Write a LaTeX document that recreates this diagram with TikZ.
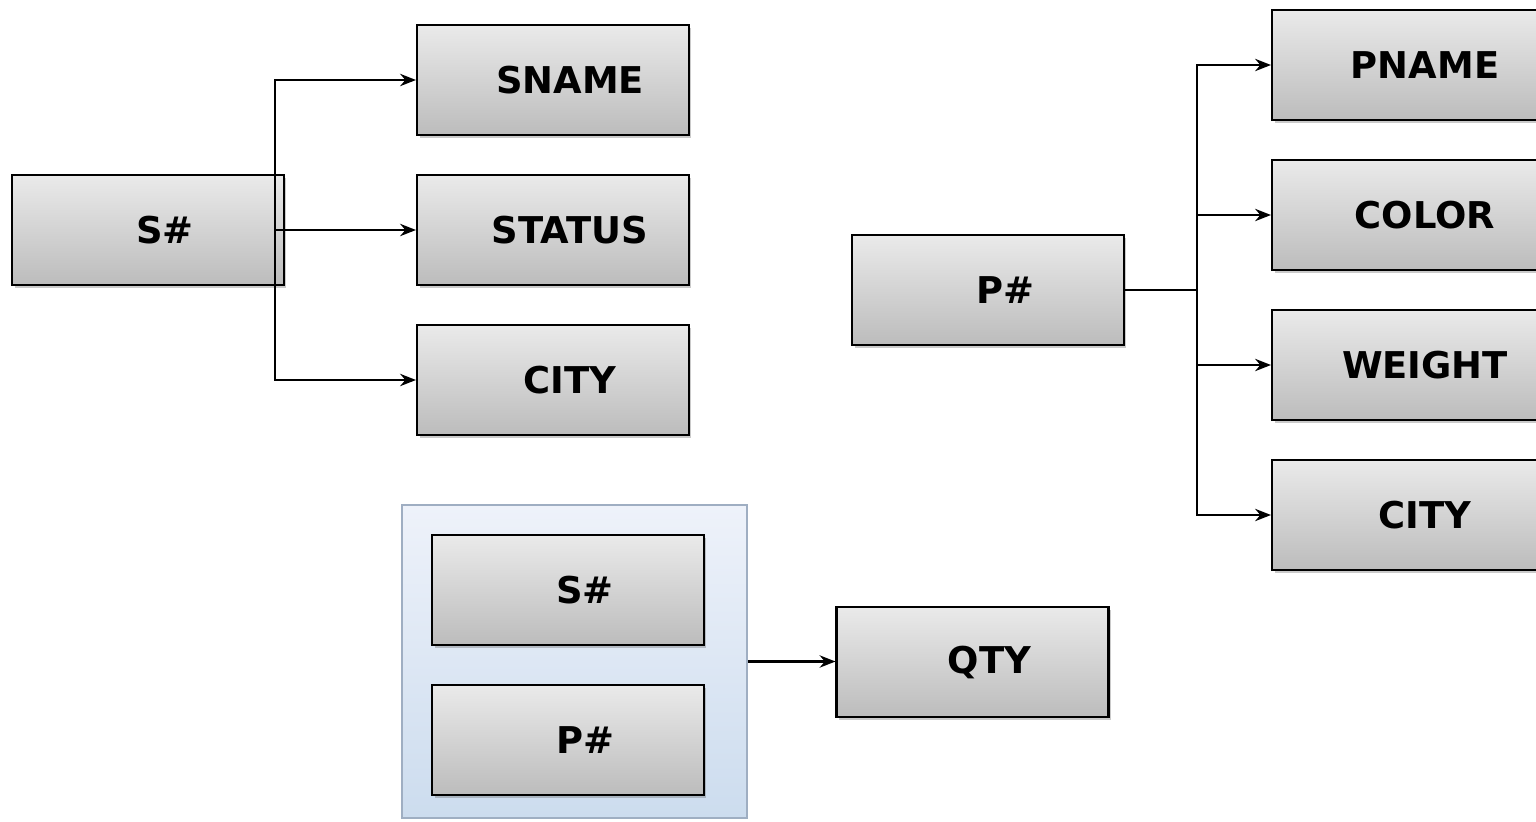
\documentclass[tikz,border=0pt]{standalone}
\usepackage{fontspec}
\setmainfont{DejaVu Sans}
\usetikzlibrary{arrows.meta,shadows}
\definecolor{boxtop}{HTML}{EAEAEA}
\definecolor{boxbot}{HTML}{BCBCBC}
\definecolor{keytop}{HTML}{EEF2FA}
\definecolor{keybot}{HTML}{CCDCEE}
\definecolor{keyline}{HTML}{9FAEC2}
\tikzset{
  attr/.style={draw=black, line width=1.2pt, rectangle, inner sep=0pt,
    minimum width=5.44cm, minimum height=2.2cm,
    top color=boxtop, bottom color=boxbot,
    drop shadow={shadow xshift=0.05cm, shadow yshift=-0.06cm, opacity=0.35, fill=black!60},
    font=\fontsize{21}{24}\selectfont\bfseries,
    execute at begin node={\hspace*{0.68cm}}},
  keybox/.style={draw=keyline, line width=1pt, rectangle, inner sep=0pt,
    minimum width=6.9cm, minimum height=6.26cm,
    top color=keytop, bottom color=keybot},
  conn/.style={line width=1.2pt, -{Stealth[length=9pt,width=7pt]}},
  trunk/.style={line width=1.4pt}
}
\begin{document}
\begin{tikzpicture}[x=0.02cm,y=-0.02cm]
\useasboundingbox (0,0) rectangle (1536,822);
\clip (0,0) rectangle (1536,822);

% supplier relation
\node[attr] (s) at (148,230) {S\#};
\node[attr] (sname) at (553,80) {SNAME};
\node[attr] (status) at (553,230) {STATUS};
\node[attr] (scity) at (553,380) {CITY};
\coordinate (sj) at (275,230);
\draw[conn] (sj) |- (sname.west);
\draw[conn] (sj) -- (status.west);
\draw[conn] (sj) |- (scity.west);

% part relation
\node[attr] (p) at (988,290) {P\#};
\node[attr] (pname) at (1408,65) {PNAME};
\node[attr] (color) at (1408,215) {COLOR};
\node[attr] (weight) at (1408,365) {WEIGHT};
\node[attr] (pcity) at (1408,515) {CITY};
\coordinate (pj) at (1197,290);
\draw[trunk] (p.east) -- (pj);
\draw[conn] (pj) |- (pname.west);
\draw[conn] (pj) |- (color.west);
\draw[conn] (pj) |- (weight.west);
\draw[conn] (pj) |- (pcity.west);

% shipment relation with composite key
\node[keybox] (key) at (574.5,661.5) {};
\node[attr] (ks) at (568,590) {S\#};
\node[attr] (kp) at (568,740) {P\#};
\node[attr] (qty) at (972.5,662) {QTY};
\draw[conn] (key.east) -- (key.east -| qty.west);
\end{tikzpicture}
\end{document}
